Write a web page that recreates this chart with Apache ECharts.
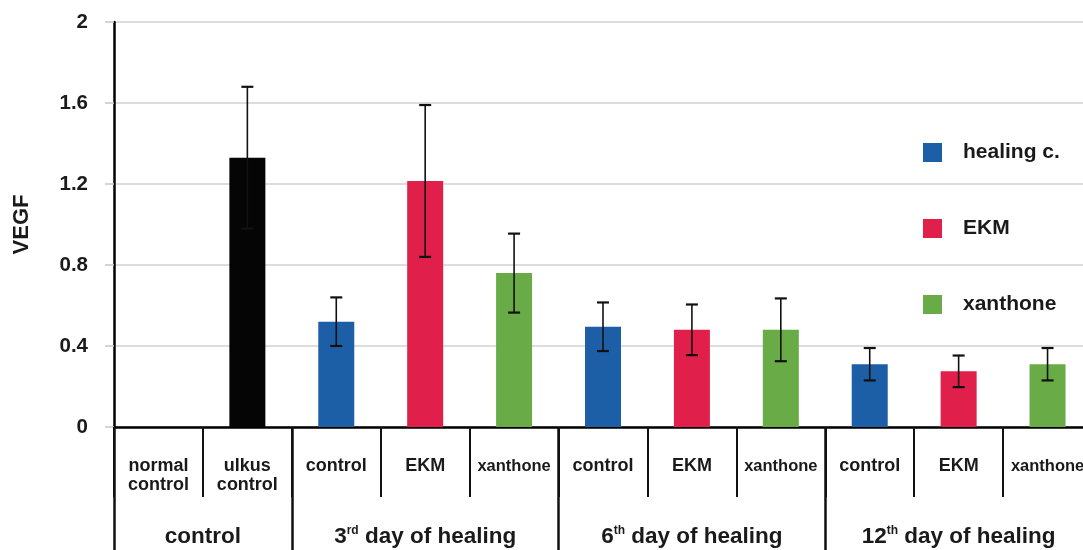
<!DOCTYPE html>
<html>
<head>
<meta charset="utf-8">
<script src="https://cdn.jsdelivr.net/npm/echarts@6/dist/echarts.min.js"></script>
<style>
html,body{margin:0;padding:0;background:#fff;}
#c{width:1083px;height:550px;}
</style>
</head>
<body>
<div id="c"></div>
<script>
// ---- data ----
const categories = ['normal\ncontrol','ulkus\ncontrol','control','EKM','xanthone','control','EKM','xanthone','control','EKM','xanthone'];
const values = [null, 1.33, 0.52, 1.215, 0.76, 0.495, 0.48, 0.48, 0.31, 0.275, 0.31];
const errors = [null, 0.35, 0.12, 0.375, 0.195, 0.12, 0.125, 0.155, 0.08, 0.078, 0.08];
const seriesOf = ['', 'ulkus control', 'healing c.', 'EKM', 'xanthone', 'healing c.', 'EKM', 'xanthone', 'healing c.', 'EKM', 'xanthone'];
const seriesNames = ['ulkus control', 'healing c.', 'EKM', 'xanthone'];
const legendNames = ['healing c.', 'EKM', 'xanthone'];
const seriesColors = ['#050505', '#1d5fa7', '#e11f4b', '#69ab46'];
const groupLabels = ['control', '3{sup|rd} day of healing', '6{sup|th} day of healing', '12{sup|th} day of healing'];
const groupSizes = [2, 3, 3, 3];
const yTicks = {min: 0, max: 2, interval: 0.4};

// ---- build group axis (half-category points) ----
const nHalf = categories.length * 2;
const groupAxisData = new Array(nHalf + 1).fill('');
const groupBounds = [0];
let acc = 0;
groupSizes.forEach((s, i) => {
  groupAxisData[acc * 2 + s] = groupLabels[i];
  acc += s;
  groupBounds.push(acc * 2);
});

const FONT = '"Liberation Sans", Arial, sans-serif';
const TXT = '#1a1a1a';

const barSeries = seriesNames.map((name, k) => ({
  name: name,
  type: 'bar',
  barWidth: 36,
  barGap: '-100%',
  itemStyle: {color: seriesColors[k]},
  data: values.map((v, i) => seriesOf[i] === name ? v : '-'),
  z: 2
}));

const errData = values.map((v, i) => v == null ? null : [i, v, errors[i]]).filter(d => d);

const chart = echarts.init(document.getElementById('c'), null, {renderer: 'canvas'});
chart.setOption({
  animation: false,
  backgroundColor: '#fff',
  textStyle: {fontFamily: FONT},
  grid: {left: 114, right: -9, top: 22, bottom: 123, containLabel: false, outerBoundsMode: 'none'},
  legend: {
    data: legendNames,
    orient: 'vertical',
    left: 923,
    top: 142,
    padding: 0,
    itemWidth: 19,
    itemHeight: 19,
    itemGap: 55,
    icon: 'rect',
    textStyle: {fontFamily: FONT, fontWeight: 'bold', fontSize: 21, color: TXT, padding: [0, 0, 0, 16]}
  },
  xAxis: [{
    type: 'category',
    data: categories,
    position: 'bottom',
    axisLine: {show: true, lineStyle: {color: '#000', width: 2.5}},
    axisTick: {show: true, interval: 0, length: 70, lineStyle: {color: '#111', width: 2}},
    axisLabel: {
      interval: 0,
      margin: 30,
      verticalAlign: 'top',
      fontFamily: FONT,
      fontWeight: 'bold',
      fontSize: 18,
      lineHeight: 19,
      color: TXT,
      formatter: v => v === 'xanthone' ? '{s|xanthone}' : v,
      rich: {s: {fontFamily: FONT, fontWeight: 'bold', fontSize: 16.5, color: TXT}}
    },
    splitLine: {show: false}
  }, {
    type: 'category',
    data: groupAxisData,
    position: 'bottom',
    boundaryGap: false,
    axisLine: {show: false},
    axisTick: {show: true, length: 123, interval: (i) => groupBounds.indexOf(i) >= 0, lineStyle: {color: '#111', width: 2.5}},
    axisLabel: {
      interval: 0,
      margin: 98,
      fontFamily: FONT,
      fontWeight: 'bold',
      fontSize: 22.5,
      color: TXT,
      rich: {sup: {fontFamily: FONT, fontWeight: 'bold', fontSize: 12, verticalAlign: 'top', color: TXT}}
    },
    splitLine: {show: false}
  }],
  yAxis: {
    type: 'value',
    min: yTicks.min,
    max: yTicks.max,
    interval: yTicks.interval,
    name: 'VEGF',
    nameLocation: 'middle',
    nameGap: 81,
    nameTextStyle: {fontFamily: FONT, fontWeight: 'bold', fontSize: 22, color: TXT},
    axisLine: {show: true, lineStyle: {color: '#000', width: 2.5}},
    axisTick: {show: true, length: 9, lineStyle: {color: '#c8c8c8', width: 1.5}},
    axisLabel: {
      margin: 26,
      fontFamily: FONT,
      fontWeight: 'bold',
      fontSize: 20.5,
      color: TXT,
      formatter: v => String(Math.round(v * 10) / 10)
    },
    splitLine: {show: true, lineStyle: {color: '#d2d2d2', width: 1.5}}
  },
  series: barSeries.concat([{
    type: 'custom',
    name: 'err',
    data: errData,
    encode: {x: 0, y: 1},
    z: 5,
    renderItem: function (params, api) {
      const i = api.value(0), v = api.value(1), e = api.value(2);
      const top = api.coord([i, v + e]);
      const bot = api.coord([i, v - e]);
      const cap = 6;
      const st = {stroke: '#111', lineWidth: 1.6};
      return {
        type: 'group',
        children: [
          {type: 'line', shape: {x1: top[0], y1: top[1], x2: bot[0], y2: bot[1]}, style: st},
          {type: 'line', shape: {x1: top[0] - cap, y1: top[1], x2: top[0] + cap, y2: top[1]}, style: {stroke: '#111', lineWidth: 2.2}},
          {type: 'line', shape: {x1: bot[0] - cap, y1: bot[1], x2: bot[0] + cap, y2: bot[1]}, style: {stroke: '#111', lineWidth: 2.2}}
        ]
      };
    }
  }])
});
</script>
</body>
</html>
